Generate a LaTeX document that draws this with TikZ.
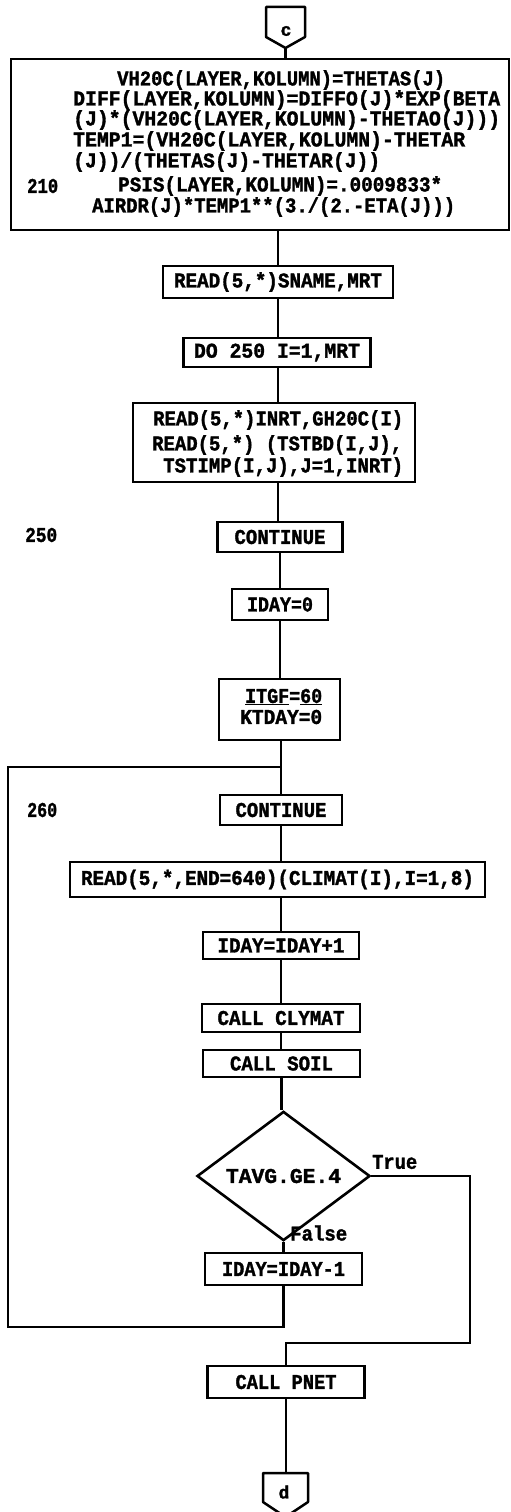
\documentclass[tikz,border=0pt]{standalone}
\usepackage{fontspec}
\usepackage{graphicx}
\usetikzlibrary{shapes.geometric}
\newfontfamily\prt{Liberation Mono}[BoldFeatures={FakeBold=1.6}]
\newcommand\fw[2]{\resizebox{#1pt}{\height}{#2}}
\tikzset{
  box/.style={draw, line width=2.6pt, inner sep=0pt},
  conn/.style={line width=2.3pt},
  txt/.style={inner sep=0pt, font=\prt\bfseries\fontsize{21}{21}\selectfont},
  lbl/.style={txt, anchor=west},
  dec/.style={diamond, draw, line width=2.6pt, inner sep=0pt},
  offp/.style={line width=2.5pt, line join=round}
}
\begin{document}
\begin{tikzpicture}[x=1pt,y=-1pt]
\useasboundingbox (0,0) rectangle (511,1512);

% off-page connector c
\coordinate (cpt) at (285.5,48);
\draw[offp] (266,7) -- (305,7) -- (305,37) -- (cpt) -- (266,37) -- cycle;
\node[txt, font=\prt\bfseries\fontsize{18}{18}\selectfont] (c) at (286,31) {c};

% big box
\node[box, minimum width=498pt, minimum height=171pt] (big) at (260,144.5) {};
\node[lbl] (l1) at (117,80) {\fw{328}{VH20C(LAYER,KOLUMN)=THETAS(J)}};
\node[lbl] (l2) at (73,100) {\fw{427}{DIFF(LAYER,KOLUMN)=DIFFO(J)*EXP(BETA}};
\node[lbl] (l3) at (73,120) {\fw{427}{(J)*(VH20C(LAYER,KOLUMN)-THETAO(J)))}};
\node[lbl] (l4) at (73,141) {\fw{392}{TEMP1=(VH20C(LAYER,KOLUMN)-THETAR}};
\node[lbl] (l5) at (73,162) {\fw{307}{(J))/(THETAS(J)-THETAR(J))}};
\node[lbl] (n210) at (27,186) {\fw{31}{210}};
\node[lbl] (l6) at (118,186) {\fw{324}{PSIS(LAYER,KOLUMN)=.0009833*}};
\node[lbl] (l7) at (92,207) {\fw{363}{AIRDR(J)*TEMP1**(3./(2.-ETA(J)))}};

\node[box, txt, minimum width=230pt, minimum height=32pt] (read1) at (278,282) {\fw{208}{READ(5,*)SNAME,MRT}};
\node[box, txt, minimum width=187pt, minimum height=29pt] (do) at (277,352.5) {\fw{166}{DO 250 I=1,MRT}};

\node[box, minimum width=282pt, minimum height=79pt] (read2) at (274,442.5) {};
\node[lbl] (r2a) at (153,420) {\fw{250}{READ(5,*)INRT,GH20C(I)}};
\node[lbl] (r2b) at (152,445) {\fw{250}{READ(5,*) (TSTBD(I,J),}};
\node[lbl] (r2c) at (163,467) {\fw{240}{TSTIMP(I,J),J=1,INRT)}};

\node[lbl] (n250) at (25,535) {\fw{32}{250}};
\node[box, txt, minimum width=125pt, minimum height=30pt] (cont1) at (280,537) {\fw{91}{CONTINUE}};
\node[box, txt, minimum width=96pt, minimum height=31pt] (iday0) at (280,604.5) {\fw{66}{IDAY=0}};

\node[box, minimum width=121pt, minimum height=61pt] (itgf) at (279.5,709.5) {};
\node[lbl] (t1) at (245,697) {\fw{77}{\underline{ITGF}=\underline{60}}};
\node[lbl] (t2) at (240,717) {\fw{82}{KTDAY=0}};

\node[lbl] (n260) at (27,810) {\fw{30}{260}};
\node[box, txt, minimum width=122pt, minimum height=30pt] (cont2) at (281,810) {\fw{91}{CONTINUE}};
\node[box, txt, minimum width=415pt, minimum height=35pt] (readc) at (277.5,879.5) {\fw{393}{READ(5,*,END=640)(CLIMAT(I),I=1,8)}};
\node[box, txt, minimum width=156pt, minimum height=27pt] (idayp) at (281,945.5) {\fw{127}{IDAY=IDAY+1}};
\node[box, txt, minimum width=158pt, minimum height=28pt] (clymat) at (281,1018) {\fw{127}{CALL CLYMAT}};
\node[box, txt, minimum width=157pt, minimum height=27pt] (soil) at (281.5,1063.5) {\fw{103}{CALL SOIL}};
\node[dec, txt, minimum width=173pt, minimum height=102pt] (dia) at (283.5,1176) {\fw{115}{TAVG.GE.4}};
\node[lbl] (true) at (372,1162) {\fw{45}{True}};
\node[lbl] (false) at (290,1233) {\fw{57}{False}};
\node[box, txt, minimum width=157pt, minimum height=32pt] (idaym) at (283.5,1269) {\fw{123}{IDAY=IDAY-1}};
\node[box, txt, minimum width=157pt, minimum height=32pt] (pnet) at (286,1382) {\fw{101}{CALL PNET}};

% off-page connector d
\coordinate (dtop) at (286,1473);
\draw[offp] (263,1473) -- (308,1473) -- (308,1502) -- (285.5,1517) -- (263,1502) -- cycle;
\node[txt, font=\prt\bfseries\fontsize{18}{18}\selectfont] (d) at (284,1492) {d};

% connectors
\draw[conn] (cpt) -- (cpt |- big.north);
\draw[conn] (big.south -| read1) -- (read1.north);
\draw[conn] (read1.south) -- (read1.south |- do.north);
\draw[conn] (read1.south |- do.south) -- (read1.south |- read2.north);
\draw[conn] (read1.south |- read2.south) -- (read1.south |- cont1.north);
\draw[conn] (cont1.south) -- (cont1.south |- iday0.north);
\draw[conn] (cont1.south |- iday0.south) -- (cont1.south |- itgf.north);
\draw[conn] (cont2.north |- itgf.south) -- (cont2.north);
\draw[conn] (cont2.south) -- (cont2.south |- readc.north);
\draw[conn] (cont2.south |- readc.south) -- (idayp.north);
\draw[conn] (idayp.south) -- (idayp.south |- clymat.north);
\draw[conn] (clymat.south) -- (clymat.south |- soil.north);
\draw[conn] (soil.south) -- (soil.south |- dia.north);
\draw[conn] (dia.south) -- (idaym.north);
\coordinate (loopBL) at (8,1327);
\coordinate (loopTL) at (8,767);
\coordinate (join) at (cont2.north |- loopTL);
\draw[conn] (idaym.south) |- (loopBL) -- (loopTL) -- (join);
\coordinate (trueR) at (470,1343);
\draw[conn] (dia.east) -| (trueR) -| (pnet.north);
\draw[conn] (pnet.south) -- (pnet.south |- dtop);
\end{tikzpicture}
\end{document}
